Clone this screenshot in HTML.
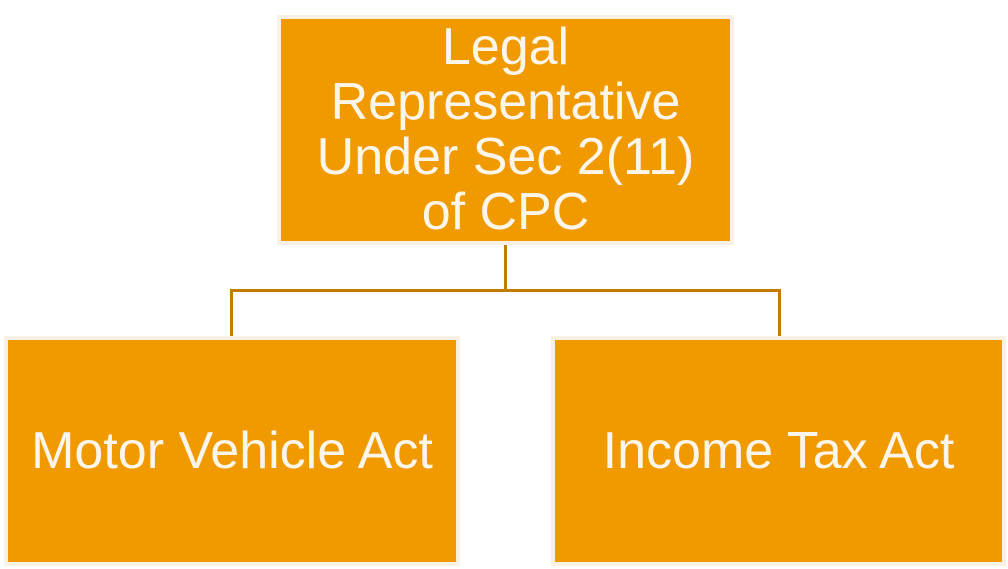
<!DOCTYPE html>
<html><head><style>
body{margin:0;width:1008px;height:569px;background:#fff;position:relative;overflow:hidden;font-family:"Liberation Sans",Arial,sans-serif}
.b{position:absolute;box-sizing:border-box;background:#f09a00;border:4px solid #f8f1e4;color:#fbf5ea;display:flex;align-items:center;justify-content:center;text-align:center;font-size:52px;line-height:55px}
.l{position:absolute;background:#c27c00}
</style></head><body>
<div class="l" style="left:504px;top:243px;width:3px;height:49px"></div>
<div class="l" style="left:230px;top:289px;width:551px;height:3px"></div>
<div class="l" style="left:230px;top:289px;width:3px;height:49px"></div>
<div class="l" style="left:778px;top:289px;width:3px;height:49px"></div>
<div class="b" style="left:277px;top:15px;width:457px;height:230px;font-size:52px">Legal<br>Representative<br>Under Sec 2(11)<br>of CPC</div>
<div class="b" style="left:4px;top:336px;width:456px;height:230px">Motor Vehicle Act</div>
<div class="b" style="left:551px;top:336px;width:455px;height:230px">Income Tax Act</div>
</body></html>
